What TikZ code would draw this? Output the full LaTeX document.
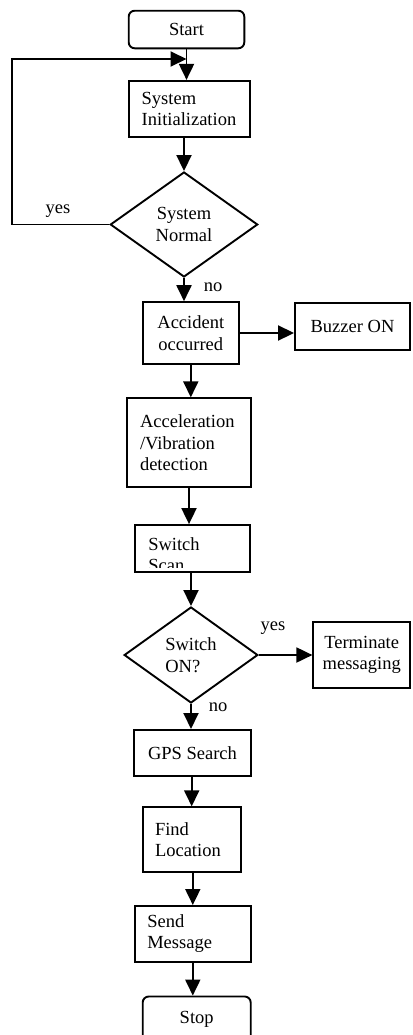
\documentclass[tikz,border=0pt]{standalone}
\usepackage{fontspec}
\setmainfont{Liberation Serif}
\usetikzlibrary{shapes.geometric,arrows.meta}
\hyphenpenalty=10000
\exhyphenpenalty=10000
\begin{document}
\begin{tikzpicture}[x=1bp,y=-1bp,
  every node/.style={font=\fontsize{18.5bp}{21.5bp}\selectfont},
  box/.style={draw, line width=1.9bp, rectangle, inner sep=0pt},
  termbox/.style={box, rounded corners=6bp},
  dec/.style={draw, line width=1.9bp, diamond, inner sep=0pt, aspect=1.4},
  arr/.style={line width=1.9bp, -{Triangle[length=16bp,width=15bp]}},
  lbl/.style={inner sep=0pt}
]
\useasboundingbox (0,0) rectangle (412,1035);

\node[termbox, minimum width=115.6bp, minimum height=37.6bp] (start) at (186.5,29.5) {Start};
\node[box, minimum width=121bp, minimum height=56.3bp, text width=95.6bp, align=left] (init) at (189.5,109) {System\\Initialization};
\node[dec, minimum width=147.4bp, minimum height=105bp, align=center] (d1) at (184,224.5) {System\\Normal};
\node[box, minimum width=95.7bp, minimum height=61.7bp, align=center] (acc) at (190.8,333) {Accident\\occurred};
\node[box, minimum width=115bp, minimum height=47.5bp] (buz) at (352.5,326.3) {Buzzer ON};
\node[box, minimum width=123.4bp, minimum height=89bp, text width=98bp, align=left] (accel) at (189,442.8) {Acceleration\\/Vibration\\detection};
\node[box, minimum width=115bp, minimum height=47.3bp] (scan) at (192.5,548.7) {};
\begin{scope}
  \clip ([yshift=6.3bp]scan.south west) rectangle (scan.north east);
  \node[inner sep=0pt, text width=88.4bp, align=left] (scantext) at ([yshift=-6bp]scan.center) {Switch\\Scan};
\end{scope}
\node[dec, minimum width=133.7bp, minimum height=96bp, align=left] (d2) at (191,655) {Switch\\ON?};
\node[box, minimum width=96.7bp, minimum height=66.8bp, align=center] (term) at (361.7,655) {Terminate\\messaging};
\node[box, minimum width=116.4bp, minimum height=45.7bp] (gps) at (192.5,752.8) {GPS Search};
\node[box, minimum width=98bp, minimum height=64.4bp, text width=73.4bp, align=left] (find) at (191.7,839.5) {Find\\Location};
\node[box, minimum width=115.7bp, minimum height=55.7bp, text width=91bp, align=left] (send) at (192.8,933.8) {Send\\Message};
\node[termbox, minimum width=108bp, minimum height=45bp] (stop) at (196.7,1019) {Stop};

\node[lbl] (yes1) at (58,211) {yes};
\node[lbl] (no1) at (213,287) {no};
\node[lbl] (yes2) at (273,628) {yes};
\node[lbl] (no2) at (218,707) {no};

\coordinate (lx) at (12.3,59);
\draw[arr] (start.south) -- (start.south |- init.north);
\draw[arr] (d1.north |- init.south) -- (d1.north);
\draw[arr] (d1.west) -| (lx) -- (start.south |- lx);
\draw[arr] (d1.south) -- (d1.south |- acc.north);
\draw[arr] (acc.east) -- (acc.east -| buz.west);
\draw[arr] (acc.south) -- (acc.south |- accel.north);
\draw[arr] (accel.south) -- (accel.south |- scan.north);
\draw[arr] (d2.north |- scan.south) -- (d2.north);
\draw[arr] (d2.east) -- (d2.east -| term.west);
\draw[arr] (d2.south) -- (d2.south |- gps.north);
\draw[arr] (find.north |- gps.south) -- (find.north);
\draw[arr] (send.north |- find.south) -- (send.north);
\draw[arr] (send.south) -- (send.south |- stop.north);
\end{tikzpicture}
\end{document}
